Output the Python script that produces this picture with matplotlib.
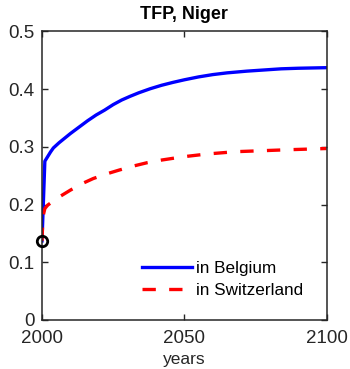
import matplotlib
matplotlib.use("Agg")
import matplotlib.pyplot as plt

plt.rcParams['font.family'] = ['Liberation Sans', 'DejaVu Sans']

# values
years_be = [2000, 2001, 2002, 2003, 2004, 2006, 2008, 2010, 2013, 2016, 2019, 2022, 2025,
            2028, 2031, 2034, 2038, 2042, 2046, 2050, 2055, 2060, 2065, 2072, 2078, 2084, 2090, 2100]
tfp_be = [0.137, 0.275, 0.283, 0.291, 0.298, 0.307, 0.315, 0.323, 0.334, 0.345, 0.355, 0.3635, 0.373,
          0.381, 0.3875, 0.3935, 0.4005, 0.4065, 0.4115, 0.416, 0.421, 0.425, 0.428, 0.431, 0.433,
          0.435, 0.436, 0.437]
years_ch = [2000, 2000.3, 2001, 2002, 2004, 2006, 2010, 2014, 2018, 2023, 2027, 2032, 2037,
            2042, 2046, 2051, 2058, 2068, 2079, 2086, 2095, 2100]
tfp_ch = [0.137, 0.178, 0.193, 0.199, 0.206, 0.213, 0.225, 0.236, 0.245, 0.2535, 0.2595, 0.2665,
          0.2725, 0.277, 0.280, 0.2835, 0.2875, 0.2915, 0.2935, 0.2948, 0.2962, 0.297]
start_year = 2000
start_tfp = 0.137

fig = plt.figure(figsize=(3.5, 3.69), dpi=100)
ax = fig.add_axes([0.12, 0.1328, 0.8134, 0.7824])

ax.plot(years_be, tfp_be, color='blue', lw=2.4, label='in Belgium')
ax.plot(years_ch, tfp_ch, color='red', lw=2.4, ls=(0, (4, 4)), label='in Switzerland')
ax.plot([start_year], [start_tfp], 'o', mfc='none', mec='black', mew=2, ms=7.5,
        clip_on=False, zorder=5)

ax.set_xlim(2000, 2100)
ax.set_ylim(0, 0.5)
ax.set_xticks([2000, 2050, 2100])
ax.set_yticks([0, 0.1, 0.2, 0.3, 0.4, 0.5])
ax.set_yticklabels(['0', '0.1', '0.2', '0.3', '0.4', '0.5'])
ax.tick_params(direction='in', top=True, right=True, labelsize=13.5, colors='0.15',
               length=4, width=1)
ax.tick_params(axis='x', pad=7.5)
ax.tick_params(axis='y', pad=5.5)
for s in ax.spines.values():
    s.set_color('0.15')
    s.set_linewidth(1.1)
ax.set_xlabel('years', fontsize=12.5, color='0.15', labelpad=3)
ax.set_title('TFP, Niger', fontsize=13, fontweight='bold', pad=9)
ax.legend(loc='upper left', frameon=False, fontsize=12.3, handlelength=2.9,
          handletextpad=0.27, labelspacing=0.4, borderpad=0, borderaxespad=0,
          bbox_to_anchor=(142 / 350, 1 - 261 / 369), bbox_transform=fig.transFigure)

fig.savefig('out.png', dpi=100)
